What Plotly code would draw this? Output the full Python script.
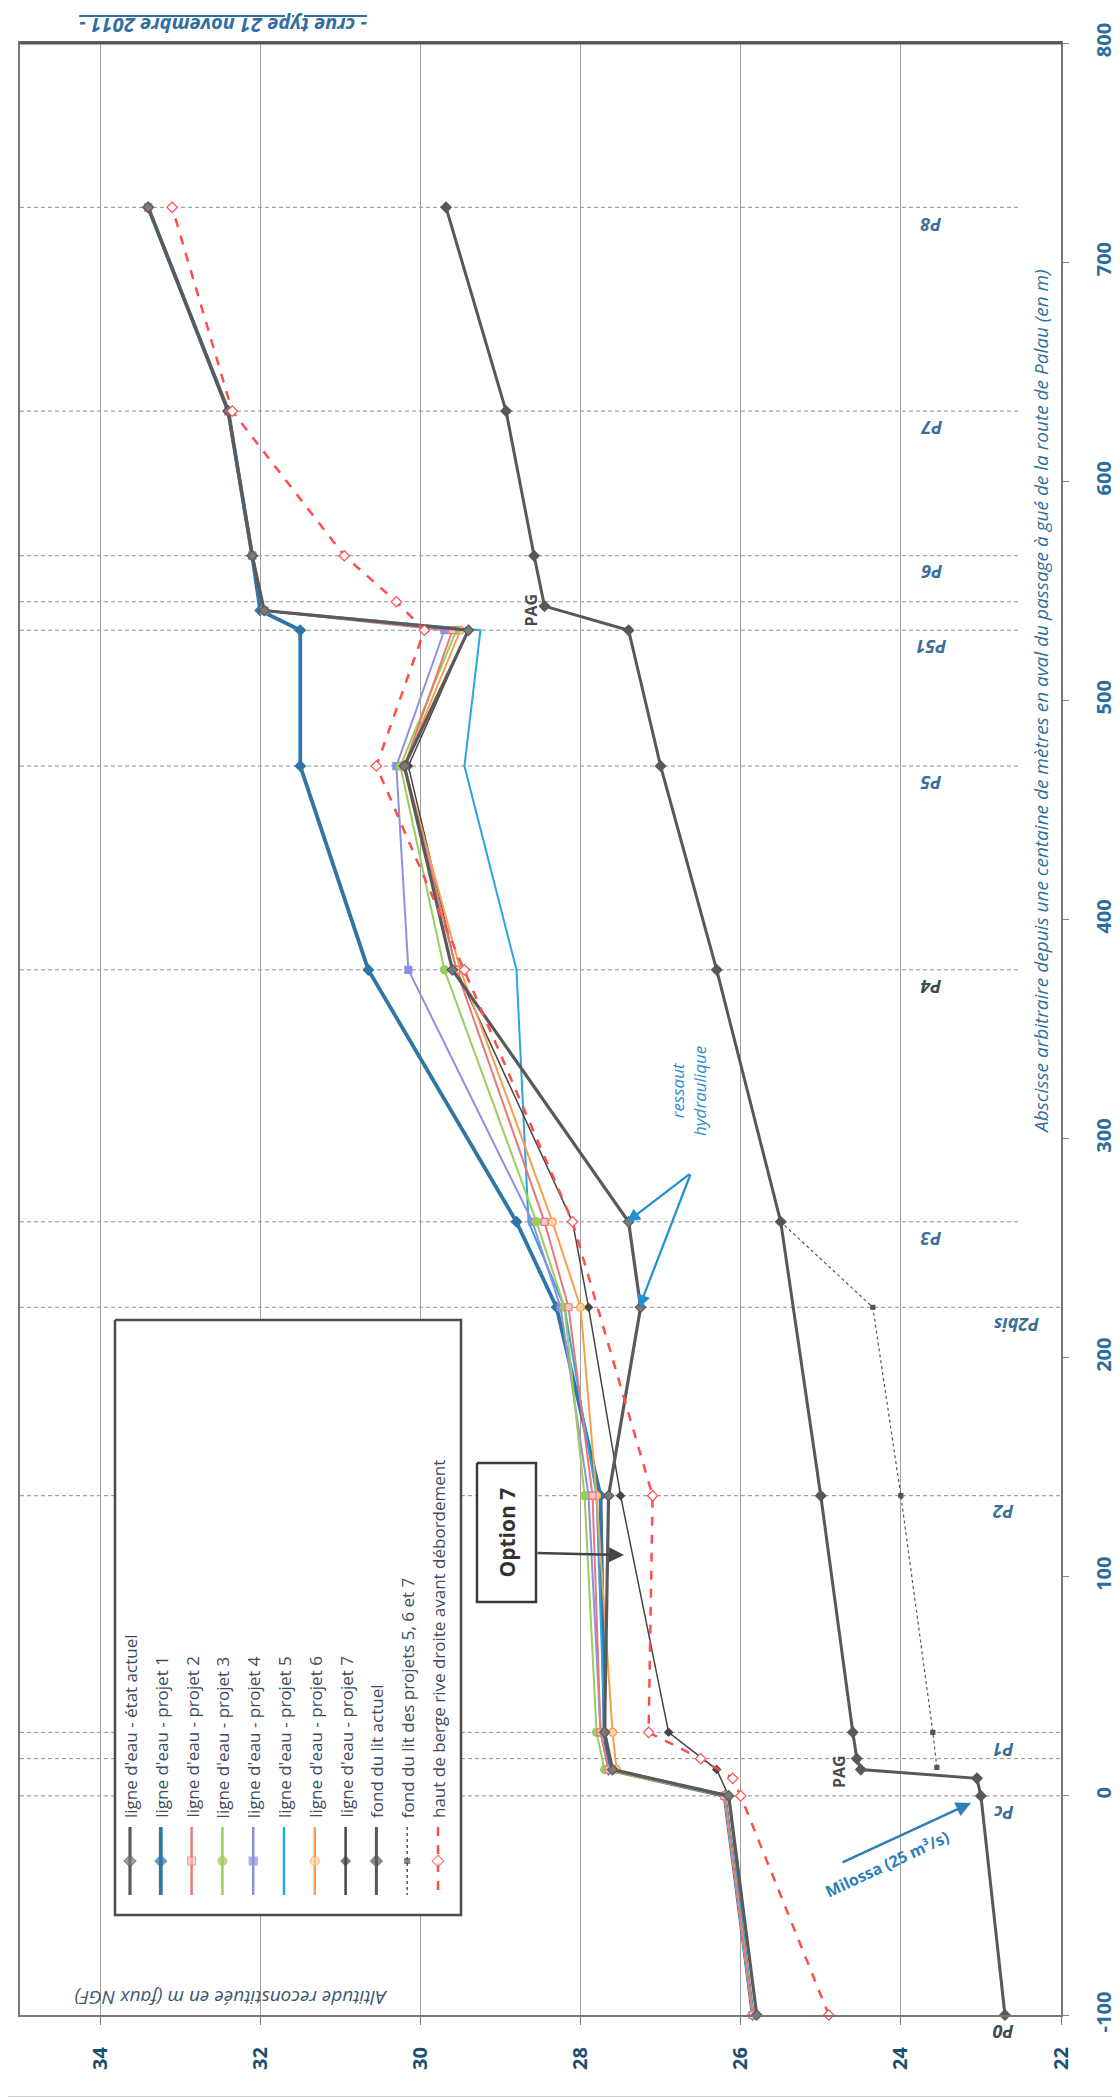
import plotly.graph_objects as go

W, H = 1120, 2097

# ---------------- data ----------------
alt_ticks = [22, 24, 26, 28, 30, 32, 34]
abs_ticks = [-100, 0, 100, 200, 300, 400, 500, 600, 700, 800]

profile_names = ["P0", "Pc", "", "P1", "P2", "P2bis", "P3", "P4", "P5", "P51", "", "P6", "P7", "P8"]
profile_x = [-100, 0, 17, 29, 137, 223, 262, 377, 470, 532, 545, 566, 632, 725]

x_wl = [-100, 0, 12, 29, 137, 223, 262, 377, 470, 532, 541, 566, 632, 725]
etat = [25.80, 26.15, 27.60, 27.70, 27.65, 27.25, 27.40, 29.60, 30.20, 29.40, 31.95, 32.10, 32.40, 33.40]
proj1 = [25.85, 26.20, 27.65, 27.70, 27.75, 28.30, 28.80, 30.65, 31.50, 31.50, 32.00, 32.10, 32.40, 33.40]
proj2 = [25.85, 26.20, 27.65, 27.75, 27.85, 28.15, 28.45, 29.55, 30.20, 29.60, 31.95, 32.10, 32.40, 33.40]
proj3 = [25.85, 26.20, 27.70, 27.80, 27.95, 28.20, 28.55, 29.70, 30.25, 29.55, 31.95, 32.10, 32.40, 33.40]
proj4 = [25.85, 26.20, 27.65, 27.75, 27.90, 28.25, 28.60, 30.15, 30.30, 29.70, 31.95, 32.10, 32.40, 33.40]
proj5 = [25.85, 26.15, 27.60, 27.70, 27.80, 28.20, 28.65, 28.80, 29.45, 29.25, 31.95, 32.10, 32.40, 33.40]
proj6 = [25.85, 26.20, 27.55, 27.60, 27.80, 28.00, 28.35, 29.50, 30.20, 29.50, 31.95, 32.10, 32.40, 33.40]
proj7 = [25.80, 26.15, 26.30, 26.90, 27.50, 27.90, 28.10, 29.55, 30.15, 29.40, 31.95, 32.10, 32.40, 33.40]

x_bed = [-100, 0, 8, 12, 17, 29, 137, 262, 377, 470, 532, 543, 566, 632, 725]
bed = [22.70, 23.00, 23.05, 24.50, 24.55, 24.60, 25.00, 25.50, 26.30, 27.00, 27.40, 28.45, 28.58, 28.93, 29.68]

x_bed567 = [13, 29, 137, 223, 262]
bed567 = [23.55, 23.60, 24.00, 24.35, 25.50]

x_berge = [-100, 0, 8, 17, 29, 137, 262, 377, 470, 532, 545, 566, 632, 725]
berge = [24.90, 26.00, 26.10, 26.50, 27.15, 27.10, 28.10, 29.45, 30.55, 29.95, 30.30, 30.95, 32.35, 33.10]

legend_names = [
    "ligne d'eau - état actuel", "ligne d'eau - projet 1", "ligne d'eau - projet 2",
    "ligne d'eau - projet 3", "ligne d'eau - projet 4", "ligne d'eau - projet 5",
    "ligne d'eau - projet 6", "ligne d'eau - projet 7", "fond du lit actuel",
    "fond du lit des projets 5, 6 et 7", "haut de berge rive droite avant débordement",
]

# ---------------- styles ----------------
styles = [
    dict(color="#5a5a5a", width=3.2, dash="solid", symbol="diamond", size=8, fill="#7a7a7a"),
    dict(color="#2f76a6", width=3.8, dash="solid", symbol="diamond", size=8, fill="#2f76a6"),
    dict(color="#e8787c", width=2, dash="solid", symbol="square", size=7, fill="#f7c4c4"),
    dict(color="#9acd5c", width=2, dash="solid", symbol="circle", size=8, fill="#9acd5c"),
    dict(color="#8f8fe2", width=2, dash="solid", symbol="square", size=7, fill="#8f8fe2"),
    dict(color="#2aa5df", width=2, dash="solid", symbol="circle", size=0, fill="#2aa5df"),
    dict(color="#f5a04e", width=2, dash="solid", symbol="circle", size=8, fill="#fbd3a8"),
    dict(color="#454545", width=1.5, dash="solid", symbol="diamond", size=6, fill="#454545"),
    dict(color="#585858", width=3, dash="solid", symbol="diamond", size=8, fill="#585858"),
    dict(color="#555555", width=1.2, dash="dot", symbol="square", size=4, fill="#555555"),
    dict(color="#ff4d4d", width=2.5, dash="dash", symbol="diamond", size=8, fill="white"),
]

series = [
    (x_wl, etat), (x_wl, proj1), (x_wl, proj2), (x_wl, proj3), (x_wl, proj4),
    (x_wl, proj5), (x_wl, proj6), (x_wl, proj7), (x_bed, bed), (x_bed567, bed567),
    (x_berge, berge),
]

fig = go.Figure()

def px(x):
    return x / W

def py(y):
    return 1 - y / H

# draw order: beds first, then water lines, berge on top
order = [8, 9, 1, 5, 7, 6, 4, 3, 2, 0, 10]
for i in order:
    xs, ys = series[i]
    s = styles[i]
    fig.add_trace(go.Scatter(
        x=ys, y=xs, mode="lines+markers" if s["size"] > 0 else "lines",
        line=dict(color=s["color"], width=s["width"], dash=s["dash"]),
        marker=dict(symbol=s["symbol"], size=s["size"], color=s["fill"],
                    line=dict(color=s["color"], width=1.2)),
        name=legend_names[i], xaxis="x", yaxis="y", cliponaxis=False,
    ))

# ---------------- custom legend (rotated) ----------------
leg_x0, leg_x1, leg_y0, leg_y1 = 107, 453, 1312, 1907
fig.add_trace(go.Scatter(
    x=[leg_x0, leg_x1, leg_x1, leg_x0, leg_x0], y=[leg_y0, leg_y0, leg_y1, leg_y1, leg_y0],
    mode="lines", fill="toself", fillcolor="white", line=dict(color="#4a4a4a", width=2.5),
    xaxis="x2", yaxis="y2", hoverinfo="skip"))
# option 7 box
fig.add_trace(go.Scatter(
    x=[469, 528, 528, 469, 469], y=[1455, 1455, 1594, 1594, 1455],
    mode="lines", fill="toself", fillcolor="white", line=dict(color="#3a3a3a", width=2.5),
    xaxis="x2", yaxis="y2", hoverinfo="skip"))

annotations = []
for k, name in enumerate(legend_names):
    ex = 122 + k * 30.8
    s = styles[k]
    fig.add_trace(go.Scatter(
        x=[ex, ex, ex], y=[1819, 1853, 1887], mode="lines+markers",
        line=dict(color=s["color"], width=max(s["width"], 2.5) if k != 9 else 1.5, dash=s["dash"]),
        marker=dict(symbol=s["symbol"], size=[0, s["size"] + 1 if s["size"] else 0, 0],
                    color=s["fill"], line=dict(color=s["color"], width=1.2)),
        xaxis="x2", yaxis="y2", hoverinfo="skip"))
    annotations.append(dict(
        x=px(ex), y=py(1812), xref="paper", yref="paper", text=name, showarrow=False,
        textangle=-90, xanchor="center", yanchor="bottom",
        font=dict(family="Open Sans", size=17, color="#3c4c5c")))

# ---------------- profile lines & labels ----------------
shapes = []
for name, xv in zip(profile_names, profile_x):
    if xv == -100:
        continue
    x_end = 22.0 if xv < 250 else 22.5
    shapes.append(dict(type="line", xref="x", yref="y", x0=35, x1=x_end, y0=xv, y1=xv,
                       line=dict(color="#8f8f8f", width=1, dash="4px,3px"), layer="below"))
for name, xv in zip(profile_names, profile_x):
    if not name:
        continue
    if name in ("P0", "Pc", "P1", "P2"):
        ax_alt = 22.72
    elif name == "P2bis":
        ax_alt = 22.56
    else:
        ax_alt = 23.62
    col = "#3f4a55" if name in ("P4", "P0") else "#3b6f99"
    annotations.append(dict(
        x=ax_alt, y=xv, xref="x", yref="y", text="<i><b>%s</b></i>" % name, showarrow=False,
        textangle=180, yshift=-17, xanchor="center", yanchor="middle",
        font=dict(family="Open Sans", size=18, color=col)))

# PAG labels
for (ax_alt, xv) in [(24.77, 11), (28.63, 541)]:
    annotations.append(dict(
        x=ax_alt, y=xv, xref="x", yref="y", text="<b>PAG</b>", showarrow=False,
        textangle=-90, xanchor="center", yanchor="middle",
        font=dict(family="Open Sans", size=16, color="#4a4a4a")))

# top border thicker
shapes.append(dict(type="line", xref="paper", yref="paper", x0=px(12), x1=px(1054),
                   y0=py(35), y1=py(35), line=dict(color="#555555", width=3)))
# scan edge line at bottom of page
shapes.append(dict(type="line", xref="paper", yref="paper", x0=0, x1=1,
                   y0=py(2089), y1=py(2089), line=dict(color="#cfcfcf", width=2)))

def txt(x, y, text, angle, size, color, bold=False, italic=False):
    t = text
    if italic:
        t = "<i>%s</i>" % t
    if bold:
        t = "<b>%s</b>" % t
    return dict(x=px(x), y=py(y), xref="paper", yref="paper", text=t, showarrow=False,
                textangle=angle, xanchor="center", yanchor="middle",
                font=dict(family="Open Sans", size=size, color=color))

# axis titles
annotations.append(txt(1033, 694,
    "Abscisse arbitraire depuis une centaine de mètres en aval du passage à gué de la route de Palau (en m)",
    -90, 19, "#2f6f9f", italic=True))
annotations.append(txt(223, 1990, "Altitude reconstituée en m (faux NGF)", 180, 19, "#3c5670", italic=True))
# title (upside down, above the plot frame)
annotations.append(txt(215, 17, "<u>- crue type 21 novembre 2011 -</u>", 180, 20, "#2f6f9f", bold=True, italic=True))

# option 7 text and arrow
annotations.append(txt(498.5, 1524, "Option 7", -90, 21, "#333333", bold=True))
annotations.append(dict(
    x=616, y=1547, xref="x2", yref="y2", ax=528, ay=1545, axref="x2", ayref="y2",
    text="", showarrow=True, arrowhead=2, arrowsize=1.2, arrowwidth=2.5, arrowcolor="#444444"))

# ressaut hydraulique
annotations.append(txt(680, 1083, "ressaut<br>hydraulique", -90, 17, "#2a8fd4", italic=True))
for tip in [(619, 1214), (631, 1300)]:
    annotations.append(dict(
        x=tip[0], y=tip[1], xref="x2", yref="y2", ax=683, ay=1165, axref="x2", ayref="y2",
        text="", showarrow=True, arrowhead=2, arrowsize=1.2, arrowwidth=2.2, arrowcolor="#1f8fd8"))

# Milossa
annotations.append(txt(879, 1856, "Milossa (25 m³/s)", -25, 16, "#2e7fb8", bold=True))
annotations.append(dict(
    x=963, y=1795, xref="x2", yref="y2", ax=833, ay=1855, axref="x2", ayref="y2",
    text="", showarrow=True, arrowhead=2, arrowsize=1.2, arrowwidth=2.5, arrowcolor="#2e7fb8"))

tickfont_alt = dict(family="Open Sans", size=20, color="#1d4f6e", weight="bold")
tickfont_abs = dict(family="Open Sans", size=20, color="#2c6d9c", weight="bold")

fig.update_layout(
    width=W, height=H, autosize=False,
    margin=dict(l=0, r=0, t=0, b=0, pad=0),
    paper_bgcolor="white", plot_bgcolor="rgba(0,0,0,0)",
    showlegend=False,
    xaxis=dict(domain=[12 / W, 1053 / W], range=[35, 22], tickvals=alt_ticks,
               ticktext=[str(v) for v in alt_ticks], tickangle=-90,
               showgrid=True, gridcolor="#a0a0a0", gridwidth=1.2, zeroline=False,
               showline=True, linecolor="#777777", linewidth=2, mirror=True,
               ticks="outside", ticklen=8, tickcolor="#777777", tickfont=tickfont_alt,
               ticklabelstandoff=14, anchor="y", automargin=False),
    yaxis=dict(domain=[1 - 2007 / H, 1 - 35 / H], range=[-100, 800], tickvals=abs_ticks,
               ticktext=[str(v) for v in abs_ticks], tickangle=-90, side="right",
               showgrid=False, zeroline=False, showline=True, linecolor="#777777",
               linewidth=2, mirror=True, ticks="outside", ticklen=6, tickcolor="#888888",
               tickfont=tickfont_abs, ticklabelstandoff=18, anchor="x", automargin=False),
    xaxis2=dict(domain=[0, 1], range=[0, W], visible=False, anchor="y2", fixedrange=True),
    yaxis2=dict(domain=[0, 1], range=[H, 0], visible=False, anchor="x2", fixedrange=True),
    shapes=shapes, annotations=annotations,
)

fig.write_html("out.html")
